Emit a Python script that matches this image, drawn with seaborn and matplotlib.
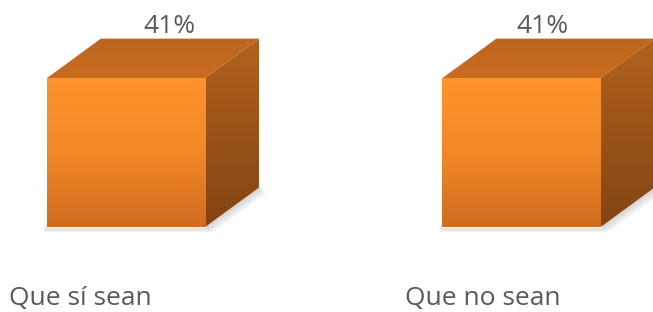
import numpy as np
import pandas as pd
import matplotlib
matplotlib.use('Agg')
import matplotlib.pyplot as plt
import seaborn as sns
from matplotlib.patches import Polygon
from matplotlib.colors import LinearSegmentedColormap

categories = ['Que sí sean', 'Que no sean']
values = [41, 41]
value_labels = ['41%', '41%']

sns.set_style('white')
plt.rcParams['font.family'] = ['Open Sans', 'DejaVu Sans']

fig = plt.figure(figsize=(6.53, 3.12), dpi=100)
ax = fig.add_axes([0, 0, 1, 1])
df = pd.DataFrame({'cat': categories, 'val': values})
sns.barplot(data=df, x='cat', y='val', width=0.4, color='#F28A2A', ax=ax, zorder=3)

# 3D depth of the boxes (data units)
dx, dy = 0.1365, 10.87
front_cmap = LinearSegmentedColormap.from_list('front', ['#FF942E', '#F28826', '#D06C1F'])
side_cmap = LinearSegmentedColormap.from_list('side', ['#B3621D', '#9A5318', '#844413'])
top_cmap = LinearSegmentedColormap.from_list('top', ['#BD661F', '#C86C20'])
label_dx = [0.109, 0.054]
grad = np.linspace(0, 1, 256).reshape(-1, 1)

for i, patch in enumerate(list(ax.patches)):
    x0, w, h = patch.get_x(), patch.get_width(), patch.get_height()
    x1 = x0 + w

    # soft shadow under the box
    for k, a in enumerate([0.12, 0.12, 0.12]):
        e = 0.4 + 0.5 * k
        shadow = Polygon([(x0 - 0.004 * k, 0.3), (x1, 0.3), (x1 + dx, dy),
                          (x1 + dx + 0.006 * (k + 1), dy - e),
                          (x1 + 0.006 * (k + 1), -e), (x0 - 0.004 * k, -e)],
                         closed=True, facecolor='#8a8a8a', edgecolor='none', alpha=a, zorder=2)
        ax.add_patch(shadow)

    top = Polygon([(x0, h), (x1, h), (x1 + dx, h + dy), (x0 + dx, h + dy)],
                  closed=True, facecolor='none', edgecolor='none', zorder=3)
    ax.add_patch(top)
    im = ax.imshow(grad, cmap=top_cmap, extent=(x0, x1 + dx, h, h + dy), origin='upper',
                   aspect='auto', zorder=4)
    im.set_clip_path(top)

    side = Polygon([(x1, 0), (x1 + dx, dy), (x1 + dx, h + dy), (x1, h)],
                   closed=True, facecolor='none', edgecolor='none', zorder=3)
    ax.add_patch(side)
    im = ax.imshow(grad, cmap=side_cmap, extent=(x1, x1 + dx, 0, h + dy), origin='upper',
                   aspect='auto', zorder=4)
    im.set_clip_path(side)

    im = ax.imshow(grad, cmap=front_cmap, extent=(x0, x1, 0, h), origin='upper',
                   aspect='auto', zorder=4)
    im.set_clip_path(patch)

    ax.annotate(value_labels[i], xy=(x0 + w / 2 + label_dx[i], h + dy), xytext=(0, 3.8),
                textcoords='offset points', ha='center', va='baseline',
                fontsize=19, color='#595959', zorder=5)
    ax.text(i - 0.295, -21.6, categories[i], ha='left', va='baseline',
            fontsize=19, color='#595959')

ax.set_xlim(-0.3186, 1.3325)
ax.set_ylim(-23.4, 62.5)
ax.axis('off')

plt.savefig('out.png', dpi=100)
